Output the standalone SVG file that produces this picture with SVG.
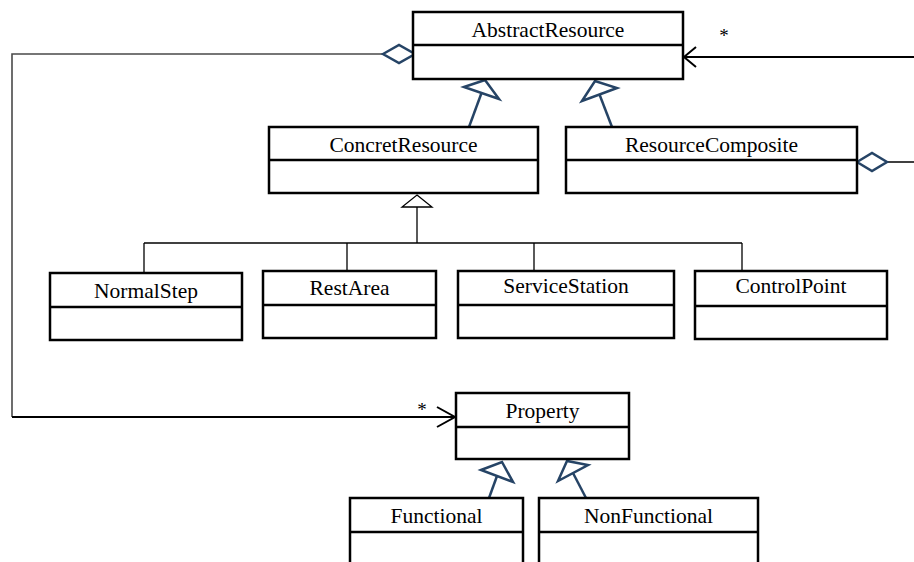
<svg xmlns="http://www.w3.org/2000/svg" width="914" height="562" viewBox="0 0 914 562">
<style>
.box{fill:#fff;stroke:#000;stroke-width:2.5}
.div{stroke:#000;stroke-width:2.5}
.lbl{font-family:'Liberation Serif','DejaVu Serif',serif;font-size:21.5px;fill:#000;text-anchor:middle}
.mult{font-family:'Liberation Serif','DejaVu Serif',serif;font-size:19px;fill:#000;text-anchor:middle}
.blue{fill:none;stroke:#264466;stroke-width:2.5;stroke-linejoin:miter}
.tree{fill:none;stroke:#000;stroke-width:1.3}
.assoc{fill:none;stroke:#000;stroke-width:2}
.grey{fill:none;stroke:#4a4a4a;stroke-width:1.6}
</style>
<rect width="914" height="562" fill="#fff"/>
<g id="connectors">
  <polyline class="grey" points="383,54 12,54 12,417"/>
  <line class="assoc" x1="12" y1="417" x2="454" y2="417"/>
  <polyline class="assoc" points="437,407 455,417 437,427"/>
  <polygon class="blue" fill="#fff" points="383,54 399,45 415,54 399,63"/>
  <text class="mult" x="422" y="416" font-family="Liberation Serif, DejaVu Serif, serif">*</text>
  <line class="assoc" x1="684" y1="57" x2="914" y2="57"/>
  <polyline class="assoc" points="696,47 684,57 696,67"/>
  <text class="mult" x="724" y="42" font-family="Liberation Serif, DejaVu Serif, serif">*</text>
  <line x1="887" y1="162" x2="914" y2="162" stroke="#000" stroke-width="1.5"/>
  <polygon class="blue" fill="#fff" points="857,162 872,153 887,162 872,171"/>
  <line class="blue" x1="469" y1="127" x2="481.5" y2="93"/>
  <polygon class="blue" points="464,87 485,80 499,99"/>
  <line class="blue" x1="612" y1="127" x2="599.5" y2="94.5"/>
  <polygon class="blue" points="582,101 595,81 617,88"/>
  <polygon class="tree" fill="#fff" points="417,195 432,207 402,207"/>
  <line class="tree" x1="417" y1="207" x2="417" y2="243"/>
  <line class="tree" x1="144" y1="243" x2="742" y2="243"/>
  <line class="tree" x1="144" y1="243" x2="144" y2="273"/>
  <line class="tree" x1="347" y1="243" x2="347" y2="271"/>
  <line class="tree" x1="534" y1="243" x2="534" y2="271"/>
  <line class="tree" x1="742" y1="243" x2="742" y2="271"/>
  <line class="blue" x1="489" y1="498" x2="497" y2="476"/>
  <polygon class="blue" points="481,470 502,462 513,482"/>
  <line class="blue" x1="586" y1="498" x2="573" y2="473"/>
  <polygon class="blue" points="558,481 567,461 588,465"/>
</g>
<g id="AbstractResource">
  <rect class="box" x="413" y="12" width="270" height="67"/>
  <line class="div" x1="413" y1="45" x2="683" y2="45"/>
  <text class="lbl" x="548" y="37" font-family="Liberation Serif, DejaVu Serif, serif">AbstractResource</text>
</g>
<g id="ConcretResource">
  <rect class="box" x="269" y="127" width="269" height="66"/>
  <line class="div" x1="269" y1="160" x2="538" y2="160"/>
  <text class="lbl" x="403.5" y="152" font-family="Liberation Serif, DejaVu Serif, serif">ConcretResource</text>
</g>
<g id="ResourceComposite">
  <rect class="box" x="566" y="127" width="291" height="66"/>
  <line class="div" x1="566" y1="160" x2="857" y2="160"/>
  <text class="lbl" x="711.5" y="152" font-family="Liberation Serif, DejaVu Serif, serif">ResourceComposite</text>
</g>
<g id="NormalStep">
  <rect class="box" x="50" y="273" width="192" height="67"/>
  <line class="div" x1="50" y1="307" x2="242" y2="307"/>
  <text class="lbl" x="146" y="298" font-family="Liberation Serif, DejaVu Serif, serif">NormalStep</text>
</g>
<g id="RestArea">
  <rect class="box" x="263" y="271" width="173" height="67"/>
  <line class="div" x1="263" y1="305" x2="436" y2="305"/>
  <text class="lbl" x="349.5" y="295" font-family="Liberation Serif, DejaVu Serif, serif">RestArea</text>
</g>
<g id="ServiceStation">
  <rect class="box" x="458" y="271" width="216" height="67"/>
  <line class="div" x1="458" y1="305" x2="674" y2="305"/>
  <text class="lbl" x="566" y="293" font-family="Liberation Serif, DejaVu Serif, serif">ServiceStation</text>
</g>
<g id="ControlPoint">
  <rect class="box" x="695" y="271" width="192" height="68"/>
  <line class="div" x1="695" y1="306" x2="887" y2="306"/>
  <text class="lbl" x="791" y="293" font-family="Liberation Serif, DejaVu Serif, serif">ControlPoint</text>
</g>
<g id="Property">
  <rect class="box" x="456" y="393" width="173" height="66"/>
  <line class="div" x1="456" y1="427" x2="629" y2="427"/>
  <text class="lbl" x="542.5" y="418" font-family="Liberation Serif, DejaVu Serif, serif">Property</text>
</g>
<g id="Functional">
  <rect class="box" x="350" y="498" width="173" height="80"/>
  <line class="div" x1="350" y1="532" x2="523" y2="532"/>
  <text class="lbl" x="436.5" y="523" font-family="Liberation Serif, DejaVu Serif, serif">Functional</text>
</g>
<g id="NonFunctional">
  <rect class="box" x="539" y="498" width="219" height="80"/>
  <line class="div" x1="539" y1="532" x2="758" y2="532"/>
  <text class="lbl" x="648.5" y="523" font-family="Liberation Serif, DejaVu Serif, serif">NonFunctional</text>
</g>
</svg>
